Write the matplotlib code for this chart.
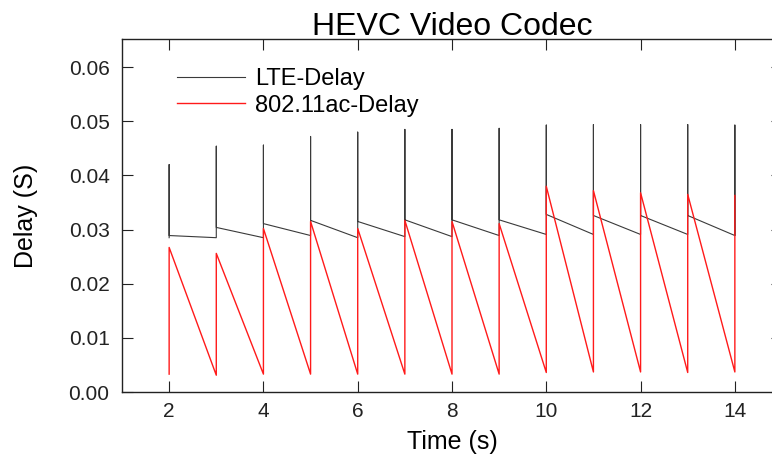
import numpy as np
import matplotlib
matplotlib.use("Agg")
import matplotlib.pyplot as plt

plt.rcParams['font.family'] = ['Liberation Sans', 'DejaVu Sans']

# per-second samples: value just before the jump, spike top, value just after
seconds = [2, 3, 4, 5, 6, 7, 8, 9, 10, 11, 12, 13, 14]
lte_before = [0.0285, 0.0285, 0.0285, 0.0289, 0.0285, 0.0287, 0.0287,
              0.0289, 0.0291, 0.0291, 0.0291, 0.0291, 0.0289]
lte_peak = [0.0420, 0.0454, 0.0456, 0.0472, 0.0480, 0.0485, 0.0485,
            0.0487, 0.0493, 0.0494, 0.0494, 0.0494, 0.0493]
lte_after = [0.0289, 0.0304, 0.0311, 0.0317, 0.0315, 0.0318, 0.0318,
             0.0318, 0.0328, 0.0326, 0.0326, 0.0326, 0.0289]

wifi_low = [0.0033, 0.0031, 0.0033, 0.0033, 0.0033, 0.0033, 0.0033,
            0.0033, 0.0036, 0.0037, 0.0037, 0.0036, 0.0037]
wifi_peak = [0.0267, 0.0256, 0.0302, 0.0315, 0.0302, 0.0317, 0.0315,
             0.0311, 0.0380, 0.0372, 0.0368, 0.0365, 0.0363]

xticks = [2, 4, 6, 8, 10, 12, 14]
yticks = [0.00, 0.01, 0.02, 0.03, 0.04, 0.05, 0.06]


def sawtooth(t, *cols):
    xs, ys = [], []
    for i in range(len(t)):
        for c in cols:
            xs.append(t[i])
            ys.append(c[i])
    return np.array(xs), np.array(ys)


lx, ly = sawtooth(seconds, lte_before, lte_peak, lte_after)
wx, wy = sawtooth(seconds, wifi_low, wifi_peak)

fig = plt.figure(figsize=(7.72, 4.55), dpi=100)
ax = fig.add_axes([122/772, 1-392/455, 660/772, 353/455])

ax.plot(lx, ly, color='#3a3a3a', lw=0.8, label='LTE-Delay')
ax.plot(wx, wy, color='#ff1a1a', lw=1.0, label='802.11ac-Delay')

ax.set_xlim(1, 15)
ax.set_ylim(0, 0.0652)
ax.set_xticks(xticks)
ax.set_yticks(yticks)
ax.set_yticklabels(['%.2f' % v for v in yticks])
ax.tick_params(direction='in', length=8, width=0.8, top=True, right=True,
               labelsize=15, colors='#222222')
ax.tick_params(axis='y', pad=9)
ax.tick_params(axis='x', pad=7)
for s in ax.spines.values():
    s.set_linewidth(1.0)
    s.set_color('#222222')
ax.spines['right'].set_visible(False)

ax.set_title('HEVC Video Codec', fontsize=23, pad=3)
ax.set_xlabel('Time (s)', fontsize=18, labelpad=7)
ax.set_ylabel('Delay (S)', fontsize=18, labelpad=22)

ax.legend(loc='upper left', bbox_to_anchor=(0.083, 0.918), frameon=False,
          fontsize=17, handlelength=2.9, handletextpad=0.4,
          labelspacing=0.2, borderpad=0, borderaxespad=0)

fig.savefig('out.png', dpi=100)
